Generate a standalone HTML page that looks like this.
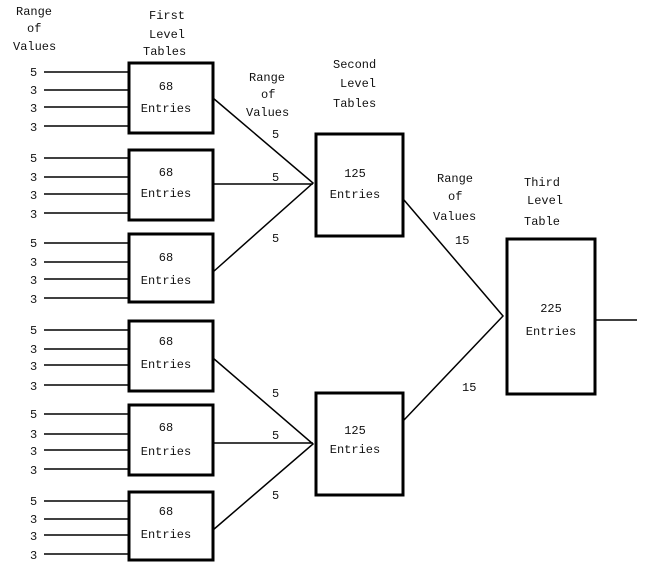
<!DOCTYPE html>
<html><head><meta charset="utf-8"><style>
html,body{margin:0;padding:0;background:#fff;}
svg{display:block;}
text{font-family:"Liberation Mono",monospace;font-size:12px;fill:#111;}
</style></head><body>
<svg width="645" height="574" viewBox="0 0 645 574" xmlns="http://www.w3.org/2000/svg">
<g fill="none" stroke="#000">
<g stroke-width="3">
<rect x="129" y="63" width="84" height="70"/>
<rect x="129" y="150" width="84" height="70"/>
<rect x="129" y="234" width="84" height="68"/>
<rect x="129" y="321" width="84" height="70"/>
<rect x="129" y="405" width="84" height="70"/>
<rect x="129" y="492" width="84" height="68"/>
<rect x="316" y="134" width="87" height="102"/>
<rect x="316" y="393" width="87" height="102"/>
<rect x="507" y="239" width="88" height="155"/>
</g>
<g stroke-width="1.5">
<path d="M44 72H128M44 90H128M44 107H128M44 126H128"/>
<path d="M44 158H128M44 177H128M44 194H128M44 213H128"/>
<path d="M44 243H128M44 262H128M44 279H128M44 298H128"/>
<path d="M44 330H128M44 349H128M44 365H128M44 385H128"/>
<path d="M44 414H128M44 434H128M44 450H128M44 469H128"/>
<path d="M44 501H128M44 519H128M44 535H128M44 554H128"/>
<path d="M213 98L313 183L213 272M213 184H313"/>
<path d="M213 358L313 444L213 530M213 443H313"/>
<path d="M404 200L503 316L404 420"/>
<path d="M596 320H637"/>
</g>
</g>
<text x="16" y="15">Range</text><text x="27" y="32">of</text><text x="13" y="50">Values</text>
<text x="149" y="19">First</text><text x="149" y="38">Level</text><text x="143" y="55">Tables</text>
<text x="249" y="81">Range</text><text x="261" y="98">of</text><text x="246" y="116">Values</text>
<text x="333" y="68">Second</text><text x="340" y="87">Level</text><text x="333" y="107">Tables</text>
<text x="437" y="182">Range</text><text x="448" y="200">of</text><text x="433" y="220">Values</text>
<text x="524" y="186">Third</text><text x="527" y="204">Level</text><text x="524" y="225">Table</text>
<text x="455" y="244">15</text><text x="462" y="391">15</text>
<text x="272" y="138">5</text><text x="272" y="181">5</text><text x="272" y="242">5</text>
<text x="272" y="397">5</text><text x="272" y="439">5</text><text x="272" y="499">5</text>
<g>
<text x="30" y="76">5</text><text x="30" y="94">3</text><text x="30" y="112">3</text><text x="30" y="131">3</text>
<text x="30" y="162">5</text><text x="30" y="181">3</text><text x="30" y="199">3</text><text x="30" y="218">3</text>
<text x="30" y="247">5</text><text x="30" y="266">3</text><text x="30" y="284">3</text><text x="30" y="303">3</text>
<text x="30" y="334">5</text><text x="30" y="353">3</text><text x="30" y="370">3</text><text x="30" y="390">3</text>
<text x="30" y="418">5</text><text x="30" y="438">3</text><text x="30" y="455">3</text><text x="30" y="474">3</text>
<text x="30" y="505">5</text><text x="30" y="523">3</text><text x="30" y="540">3</text><text x="30" y="559">3</text>
</g>
<g text-anchor="middle">
<text x="166" y="90">68</text><text x="166" y="112">Entries</text>
<text x="166" y="176">68</text><text x="166" y="197">Entries</text>
<text x="166" y="261">68</text><text x="166" y="284">Entries</text>
<text x="166" y="345">68</text><text x="166" y="368">Entries</text>
<text x="166" y="431">68</text><text x="166" y="455">Entries</text>
<text x="166" y="515">68</text><text x="166" y="538">Entries</text>
<text x="355" y="177">125</text><text x="355" y="198">Entries</text>
<text x="355" y="434">125</text><text x="355" y="453">Entries</text>
<text x="551" y="312">225</text><text x="551" y="335">Entries</text>
</g>
</svg>
</body></html>
